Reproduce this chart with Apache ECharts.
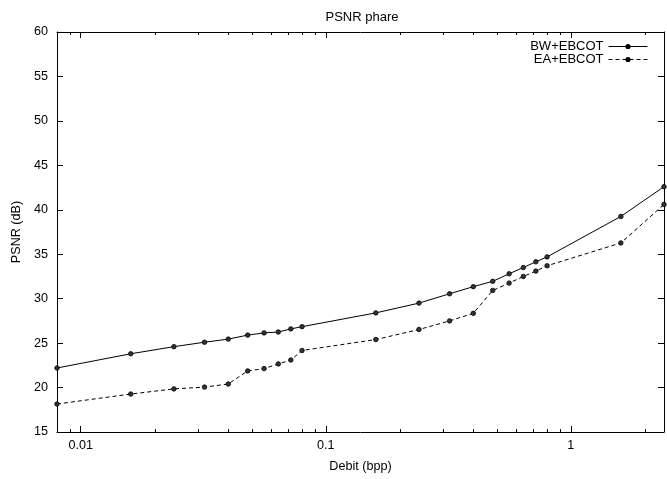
<!DOCTYPE html>
<html>
<head>
<meta charset="utf-8">
<script src="https://cdn.jsdelivr.net/npm/echarts@6/dist/echarts.min.js"></script>
<style>
html,body{margin:0;padding:0;background:#fff;}
#chart{width:667px;height:479px;}
</style>
</head>
<body>
<div id="chart"></div>
<script>
// Debit (bpp) values
const debit = [0.008, 0.016, 0.024, 0.032, 0.04, 0.048, 0.056, 0.064, 0.072, 0.08,
               0.16, 0.24, 0.32, 0.40, 0.48, 0.56, 0.64, 0.72, 0.80, 1.6, 2.4];
// PSNR (dB)
const bwEbcot = [22.2, 23.8, 24.6, 25.1, 25.45, 25.9, 26.15, 26.25, 26.6, 26.85,
                 28.4, 29.5, 30.55, 31.35, 31.95, 32.8, 33.5, 34.15, 34.7, 39.25, 42.6];
const eaEbcot = [18.15, 19.27, 19.85, 20.05, 20.4, 21.87, 22.13, 22.66, 23.1, 24.17,
                 25.4, 26.53, 27.5, 28.35, 30.93, 31.75, 32.5, 33.1, 33.7, 36.27, 40.6];
const seriesNames = ['BW+EBCOT', 'EA+EBCOT'];
const minorTicks = [0.009, 0.02, 0.03, 0.04, 0.05, 0.06, 0.07, 0.08, 0.09,
                    0.2, 0.3, 0.4, 0.5, 0.6, 0.7, 0.8, 0.9, 2];
const xMin = 0.008, xMax = 2.4, yMin = 15, yMax = 60, yStep = 5;

const FONT = 'Liberation Sans, Arial, Helvetica, sans-serif';
const FS = 12.6;
const chart = echarts.init(document.getElementById('chart'), null, {renderer: 'canvas'});

function logLabel(v) {
  const l = Math.log10(v);
  if (Math.abs(l - Math.round(l)) > 1e-6) return '';
  return String(Number(v.toPrecision(6)));
}

const axisLineStyle = {color: '#000', width: 1};

chart.setOption({
  animation: false,
  backgroundColor: '#fff',
  title: {
    text: 'PSNR phare',
    left: 357, top: 6, textAlign: 'center',
    textStyle: {fontFamily: FONT, fontSize: 13, fontWeight: 'normal', color: '#000'}
  },
  legend: {
    data: seriesNames,
    orient: 'vertical',
    right: 14, top: 35,
    align: 'right',
    itemWidth: 39, itemHeight: 4, itemGap: 0,
    lineStyle: {width: 1},
    textStyle: {fontFamily: FONT, fontSize: 13, color: '#000'},
    inactiveColor: '#000'
  },
  grid: {left: 57, right: 3, top: 32, bottom: 47, containLabel: false},
  xAxis: [{
    type: 'log', logBase: 10, min: xMin, max: xMax, position: 'bottom',
    name: 'Debit (bpp)', nameLocation: 'middle', nameGap: 28,
    nameTextStyle: {fontFamily: FONT, fontSize: FS, color: '#000'},
    axisLine: {show: true, lineStyle: axisLineStyle},
    axisTick: {show: true, inside: true, length: 6, lineStyle: axisLineStyle},
    axisLabel: {show: true, margin: 7, formatter: logLabel, fontFamily: FONT, fontSize: FS, color: '#000'},
    splitLine: {show: false}
  }, {
    type: 'log', logBase: 10, min: xMin, max: xMax, position: 'top',
    axisLine: {show: true, lineStyle: axisLineStyle},
    axisTick: {show: true, inside: true, length: 6, lineStyle: axisLineStyle},
    axisLabel: {show: false},
    splitLine: {show: false}
  }],
  yAxis: [{
    type: 'value', min: yMin, max: yMax, interval: yStep, position: 'left',
    name: 'PSNR (dB)', nameLocation: 'middle', nameGap: 34, nameRotate: 90,
    nameTextStyle: {fontFamily: FONT, fontSize: FS, color: '#000'},
    axisLine: {show: true, lineStyle: axisLineStyle},
    axisTick: {show: true, inside: true, length: 6, lineStyle: axisLineStyle},
    axisLabel: {margin: 9, fontFamily: FONT, fontSize: FS, color: '#000'},
    splitLine: {show: false}
  }, {
    type: 'value', min: yMin, max: yMax, interval: yStep, position: 'right',
    axisLine: {show: true, lineStyle: axisLineStyle},
    axisTick: {show: true, inside: true, length: 6, lineStyle: axisLineStyle},
    axisLabel: {show: false},
    splitLine: {show: false}
  }],
  series: [{
    name: seriesNames[0], type: 'line',
    data: debit.map((d, i) => [d, bwEbcot[i]]),
    symbol: 'circle', symbolSize: 4.5, showSymbol: true,
    itemStyle: {color: '#333', borderColor: '#000', borderWidth: 0.8},
    lineStyle: {color: '#000', width: 1, type: 'solid'},
    emphasis: {disabled: true}
  }, {
    name: seriesNames[1], type: 'line',
    data: debit.map((d, i) => [d, eaEbcot[i]]),
    symbol: 'circle', symbolSize: 4.5, showSymbol: true,
    itemStyle: {color: '#333', borderColor: '#000', borderWidth: 0.8},
    lineStyle: {color: '#000', width: 1, type: [4, 3]},
    emphasis: {disabled: true}
  }, {
    name: 'minor', type: 'custom', silent: true, clip: false,
    data: minorTicks.map(v => [v, yMin]),
    encode: {x: 0, y: 1},
    renderItem: function (params, api) {
      const x = api.value(0);
      const pb = api.coord([x, yMin]);
      const pt = api.coord([x, yMax]);
      const st = {stroke: '#000', lineWidth: 1};
      const px = Math.round(pb[0]) + 0.5;
      return {type: 'group', children: [
        {type: 'line', shape: {x1: px, y1: pb[1], x2: px, y2: pb[1] - 3}, style: st},
        {type: 'line', shape: {x1: px, y1: pt[1], x2: px, y2: pt[1] + 3}, style: st}
      ]};
    }
  }]
});
</script>
</body>
</html>
